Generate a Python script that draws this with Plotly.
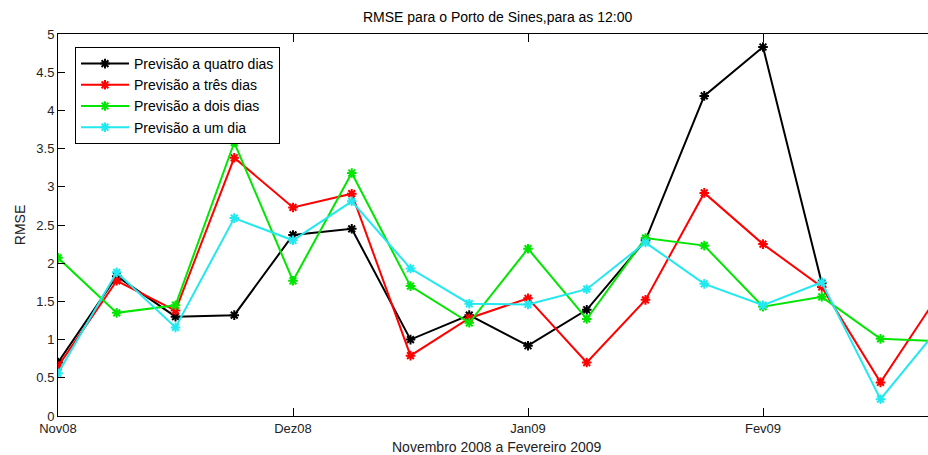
import numpy as np
import plotly.graph_objects as go

# Weekly samples, four per month, starting at Nov08
semanas = list(range(16))
meses_pos = [0, 4, 8, 12]
meses_txt = ["Nov08", "Dez08", "Jan09", "Fev09"]

quatro_dias = [0.70, 1.83, 1.30, 1.32, 2.37, 2.45, 1.00, 1.32, 0.92, 1.39, 2.30, 4.19, 4.83, 1.74, None, None]
tres_dias = [0.65, 1.77, 1.38, 3.38, 2.73, 2.91, 0.79, 1.28, 1.54, 0.70, 1.52, 2.92, 2.25, 1.69, 0.44, 1.60]
dois_dias = [2.07, 1.35, 1.45, 3.58, 1.77, 3.18, 1.70, 1.22, 2.19, 1.27, 2.33, 2.23, 1.43, 1.56, 1.01, 0.98]
um_dia = [0.56, 1.88, 1.16, 2.59, 2.30, 2.81, 1.93, 1.47, 1.46, 1.66, 2.27, 1.73, 1.45, 1.75, 0.22, 1.16]

series = [
    ("Previsão a quatro dias", quatro_dias, "#000000"),
    ("Previsão a três dias", tres_dias, "#ff0000"),
    ("Previsão a dois dias", dois_dias, "#00e600"),
    ("Previsão a um dia", um_dia, "#22e8f0"),
]

W, H = 928, 455
L, R, T, B = 58, 0, 34, 39
FONT = "Liberation Sans, Arial, sans-serif"
TXT = 14   # titles and legend
TICK = 13  # tick labels

fig = go.Figure()
for nome, vals, cor in series:
    fig.add_trace(go.Scatter(
        x=semanas, y=vals, name=nome, mode="lines+markers",
        line=dict(color=cor, width=2),
        marker=dict(symbol="asterisk-open", size=8, color=cor,
                    line=dict(color=cor, width=2)),
        connectgaps=False,
    ))

# visible x span: axis continues past the right edge of the window
px_per_week = (763 - 58) / 12.0
x_max = (W - L) / px_per_week

fig.update_layout(
    width=W, height=H,
    margin=dict(l=L, r=R, t=T, b=B),
    paper_bgcolor="white", plot_bgcolor="white",
    font=dict(family=FONT, size=TXT, color="#000000"),
    showlegend=True,
    legend=dict(
        x=(75 - L) / (W - L), y=1 - (47 - T) / (H - T - B),
        xanchor="left", yanchor="top",
        bgcolor="white", bordercolor="#000000", borderwidth=1,
        font=dict(family=FONT, size=TXT, color="#000000"),
        itemwidth=48, tracegroupgap=0,
    ),
    xaxis=dict(
        range=[0, x_max], tickmode="array", tickvals=meses_pos, ticktext=meses_txt,
        ticks="inside", ticklen=8, tickwidth=1, tickcolor="#000000",
        showline=True, linecolor="#000000", linewidth=1, mirror="ticks",
        showgrid=False, zeroline=False,
        tickfont=dict(family=FONT, size=TICK, color="#222222"),
    ),
    yaxis=dict(
        range=[0, 5], tickmode="array",
        tickvals=[0, 0.5, 1, 1.5, 2, 2.5, 3, 3.5, 4, 4.5, 5],
        ticktext=["0", "0.5", "1", "1.5", "2", "2.5", "3", "3.5", "4", "4.5", "5"],
        ticks="inside", ticklen=7, tickwidth=1, tickcolor="#000000",
        showline=True, linecolor="#000000", linewidth=1, mirror=False,
        showgrid=False, zeroline=False,
        tickfont=dict(family=FONT, size=TICK, color="#222222"),
        title=dict(text="RMSE", font=dict(family=FONT, size=TXT, color="#222222"), standoff=7),
    ),
    annotations=[
        dict(text="RMSE para o Porto de Sines,para as 12:00", xref="paper", yref="paper",
             x=(497 - L) / (W - L), y=1 + (T - 17) / (H - T - B),
             xanchor="center", yanchor="middle", showarrow=False,
             font=dict(family=FONT, size=TXT, color="#000000")),
        dict(text="Novembro 2008 a Fevereiro 2009", xref="paper", yref="paper",
             x=(497 - L) / (W - L), y=-(447 - (H - B)) / (H - T - B),
             xanchor="center", yanchor="middle", showarrow=False,
             font=dict(family=FONT, size=TXT, color="#222222")),
    ],
)

fig.write_html("out.html")
